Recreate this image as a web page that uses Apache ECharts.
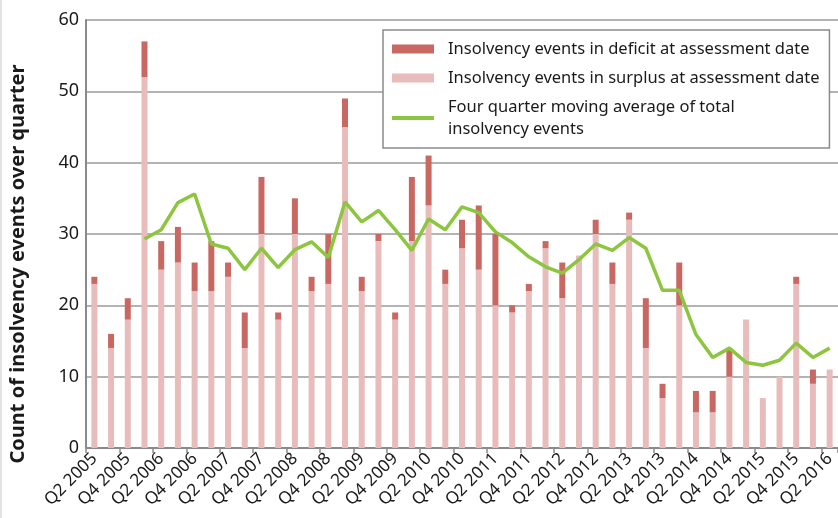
<!DOCTYPE html>
<html>
<head>
<meta charset="utf-8">
<script src="https://cdn.jsdelivr.net/npm/echarts@6/dist/echarts.min.js"></script>
<style>
  html, body { margin: 0; padding: 0; background: #fff; }
  #chart { width: 838px; height: 518px; }
</style>
</head>
<body>
<div id="chart"></div>
<script>
// quarters Q2 2005 .. Q2 2016
var quarters = [
    'Q2 2005','Q3 2005','Q4 2005','Q1 2006','Q2 2006','Q3 2006','Q4 2006','Q1 2007',
    'Q2 2007','Q3 2007','Q4 2007','Q1 2008','Q2 2008','Q3 2008','Q4 2008','Q1 2009',
    'Q2 2009','Q3 2009','Q4 2009','Q1 2010','Q2 2010','Q3 2010','Q4 2010','Q1 2011',
    'Q2 2011','Q3 2011','Q4 2011','Q1 2012','Q2 2012','Q3 2012','Q4 2012','Q1 2013',
    'Q2 2013','Q3 2013','Q4 2013','Q1 2014','Q2 2014','Q3 2014','Q4 2014','Q1 2015',
    'Q2 2015','Q3 2015','Q4 2015','Q1 2016','Q2 2016'
];
var surplus = [
    23, 14, 18, 52, 25, 26, 22, 22, 24, 14, 30, 18, 30, 22, 23,
    45, 22, 29, 18, 29, 34, 23, 28, 25, 20, 19, 22, 28, 21, 27,
    30, 23, 32, 14, 7, 20, 5, 5, 10, 18, 7, 10, 23, 9, 11
];
var deficit = [
    1, 2, 3, 5, 4, 5, 4, 7, 2, 5, 8, 1, 5, 2, 7,
    4, 2, 1, 1, 9, 7, 2, 4, 9, 10, 1, 1, 1, 5, 0,
    2, 3, 1, 7, 2, 6, 3, 3, 4, 0, 0, 0, 1, 2, 0
];
var movingAvg = [
    null, null, null, 29.3, 30.6, 34.4, 35.6, 28.6, 28.0, 25.0, 28.0, 25.3, 27.8, 28.9, 26.7,
    34.5, 31.7, 33.3, 30.6, 27.7, 32.1, 30.6, 33.8, 33.0, 30.3, 28.8, 26.8, 25.4, 24.5, 26.4,
    28.6, 27.7, 29.5, 28.0, 22.1, 22.1, 15.9, 12.7, 14.0, 12.0, 11.6, 12.3, 14.7, 12.7, 14.0
];
var yTicks = { min: 0, max: 60, interval: 10 };

var nameDeficit = 'Insolvency events in deficit at assessment date';
var nameSurplus = 'Insolvency events in surplus at assessment date';
var nameAvg = 'Four quarter moving average of total insolvency events';

var chart = echarts.init(document.getElementById('chart'));
var font = 'Noto Sans';
var option = {
    animation: false,
    backgroundColor: '#fff',
    textStyle: { fontFamily: font },
    grid: { left: 86, right: -5, top: 20, bottom: 70, containLabel: false },
    legend: {
        orient: 'vertical',
        left: 383,
        top: 30,
        padding: [8, 10, 8, 9],
        backgroundColor: '#fff',
        borderColor: '#8a8a8a',
        borderWidth: 1.5,
        itemWidth: 42,
        itemHeight: 9,
        itemGap: 7,
        textStyle: { fontSize: 16.5, color: '#1a1a1a', lineHeight: 22, padding: [0, 0, 0, 9] },
        formatter: function (name) {
            if (name === nameAvg) return 'Four quarter moving average of total\ninsolvency events';
            return name;
        },
        data: [
            { name: nameDeficit, icon: 'rect' },
            { name: nameSurplus, icon: 'rect' },
            { name: nameAvg, icon: 'path://M0 0H42V4H0Z' }
        ]
    },
    xAxis: {
        type: 'category',
        data: quarters,
        boundaryGap: true,
        axisLine: { lineStyle: { color: '#8a8a8a', width: 2 } },
        axisTick: { show: true, length: 5, lineStyle: { color: '#8a8a8a', width: 1.5 } },
        axisLabel: {
            interval: 1,
            rotate: 45,
            fontSize: 17,
            color: '#1a1a1a',
            margin: 8
        }
    },
    yAxis: {
        type: 'value',
        min: yTicks.min,
        max: yTicks.max,
        interval: yTicks.interval,
        name: 'Count of insolvency events over quarter',
        nameLocation: 'middle',
        nameGap: 58,
        nameTextStyle: { fontSize: 20, fontWeight: 'bold', color: '#1a1a1a', padding: [0, 60, 0, 0] },
        axisLine: { show: true, lineStyle: { color: '#8a8a8a', width: 2 } },
        axisTick: { show: false },
        axisLabel: { fontSize: 18, color: '#1a1a1a', margin: 7 },
        splitLine: { lineStyle: { color: '#9a9a9a', width: 1.5 } }
    },
    series: [
        {
            name: nameSurplus,
            type: 'bar',
            stack: 'total',
            barWidth: 6,
            itemStyle: { color: '#e8bcbb' },
            data: surplus
        },
        {
            name: nameDeficit,
            type: 'bar',
            stack: 'total',
            barWidth: 6,
            itemStyle: { color: '#c96862' },
            data: deficit
        },
        {
            name: nameAvg,
            type: 'line',
            symbol: 'none',
            lineStyle: { color: '#8cc63f', width: 3.5 },
            itemStyle: { color: '#8cc63f' },
            data: movingAvg,
            z: 5
        }
    ],
    graphic: [
        { type: 'line', shape: { x1: 1, y1: 0, x2: 1, y2: 518 }, style: { stroke: '#c8c8c8', lineWidth: 1 } }
    ]
};
chart.setOption(option);
</script>
</body>
</html>
